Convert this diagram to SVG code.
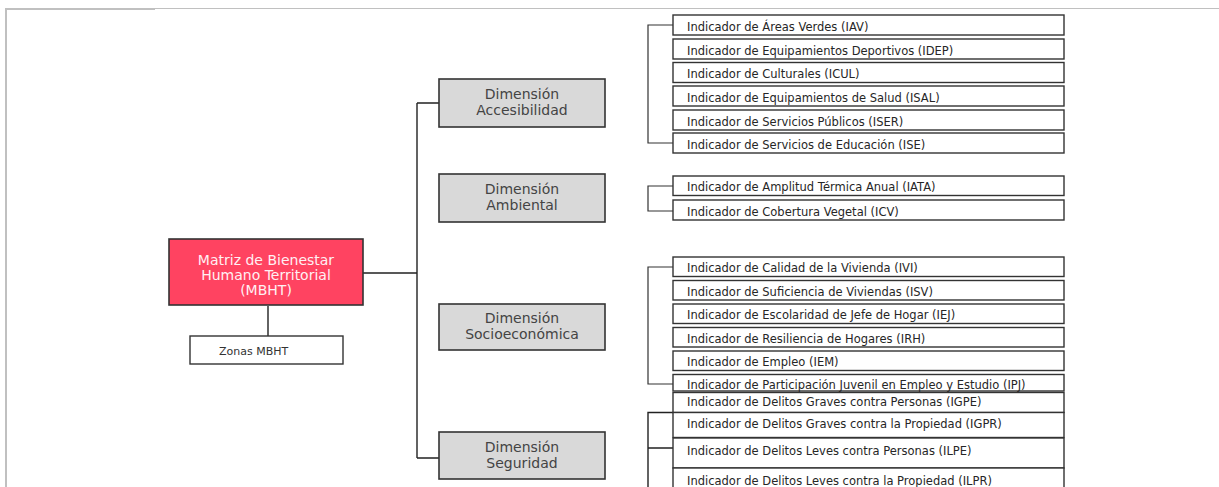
<svg xmlns="http://www.w3.org/2000/svg" width="1219" height="487" viewBox="0 0 1219 487">
<style>
.dim{fill:#d9d9d9;stroke:#333;stroke-width:1.6}
.ind{fill:#fff;stroke:#333;stroke-width:1.4}
.dt{font-family:"DejaVu Sans",Verdana,sans-serif;font-size:14px;fill:#444;text-anchor:middle}
.mt{font-family:"DejaVu Sans",Verdana,sans-serif;font-size:14px;fill:#fff0f3;text-anchor:middle}
.it{font-family:"DejaVu Sans",Verdana,sans-serif;font-size:11.5px;fill:#262626}
.ln{fill:none;stroke:#222;stroke-width:1.4}
.bk{fill:none;stroke:#333;stroke-width:1.2}
</style>
<rect width="1219" height="487" fill="#fff"/>
<g id="page-border" fill="none" stroke="#c0c0c0">
<path d="M6 487V9H155" stroke-width="2"/>
<path d="M155 8.5H1219" stroke-width="1.2"/>
</g>
<g id="connectors">
<path class="ln" d="M363 273H417M417 103V458M417 103H439M417 458H439"/>
<path class="ln" d="M268 306V336"/>
<path class="bk" d="M673 25H648V143H673"/>
<path class="bk" d="M673 186H648V211H673"/>
<path class="bk" d="M673 267H648V384H673"/>
<path class="ln" d="M673 412.5H648V487M648 448H673"/>
</g>
<g id="mbht">
<rect x="169" y="239" width="194" height="66" fill="#ff4361" stroke="#333" stroke-width="1.6"/>
<text class="mt" x="266" y="265">Matriz de Bienestar</text>
<text class="mt" x="266" y="280">Humano Territorial</text>
<text class="mt" x="266" y="295">(MBHT)</text>
</g>
<g id="zonas">
<rect x="190" y="336" width="153" height="28" fill="#fff" stroke="#333" stroke-width="1.4"/>
<text x="219" y="355" style="font-family:'DejaVu Sans',Verdana,sans-serif;font-size:11px;fill:#333">Zonas MBHT</text>
</g>
<g id="dim-accesibilidad">
<rect class="dim" x="439" y="79" width="166" height="48"/>
<text class="dt" x="522" y="99">Dimensión</text>
<text class="dt" x="522" y="115">Accesibilidad</text>
</g>
<g id="dim-ambiental">
<rect class="dim" x="439" y="174" width="166" height="48"/>
<text class="dt" x="522" y="194">Dimensión</text>
<text class="dt" x="522" y="210">Ambiental</text>
</g>
<g id="dim-socioeconomica">
<rect class="dim" x="439" y="304" width="166" height="46"/>
<text class="dt" x="522" y="323">Dimensión</text>
<text class="dt" x="522" y="339">Socioeconómica</text>
</g>
<g id="dim-seguridad">
<rect class="dim" x="439" y="432" width="166" height="47"/>
<text class="dt" x="522" y="452">Dimensión</text>
<text class="dt" x="522" y="468">Seguridad</text>
</g>
<g id="ind-iav"><rect class="ind" x="673" y="15" width="391" height="20"/><text class="it" x="687" y="30.5">Indicador de Áreas Verdes (IAV)</text></g>
<g id="ind-idep"><rect class="ind" x="673" y="39" width="391" height="20"/><text class="it" x="687" y="54.5">Indicador de Equipamientos Deportivos (IDEP)</text></g>
<g id="ind-icul"><rect class="ind" x="673" y="62.5" width="391" height="20"/><text class="it" x="687" y="78">Indicador de Culturales (ICUL)</text></g>
<g id="ind-isal"><rect class="ind" x="673" y="86" width="391" height="20"/><text class="it" x="687" y="101.5">Indicador de Equipamientos de Salud (ISAL)</text></g>
<g id="ind-iser"><rect class="ind" x="673" y="110" width="391" height="20"/><text class="it" x="687" y="125.5">Indicador de Servicios Públicos (ISER)</text></g>
<g id="ind-ise"><rect class="ind" x="673" y="133" width="391" height="20"/><text class="it" x="687" y="148.5">Indicador de Servicios de Educación (ISE)</text></g>
<g id="ind-iata"><rect class="ind" x="673" y="176" width="391" height="19.5"/><text class="it" x="687" y="191">Indicador de Amplitud Térmica Anual (IATA)</text></g>
<g id="ind-icv"><rect class="ind" x="673" y="200" width="391" height="20"/><text class="it" x="687" y="215.5">Indicador de Cobertura Vegetal (ICV)</text></g>
<g id="ind-ivi"><rect class="ind" x="673" y="257" width="391" height="19.5"/><text class="it" x="687" y="272">Indicador de Calidad de la Vivienda (IVI)</text></g>
<g id="ind-isv"><rect class="ind" x="673" y="280.5" width="391" height="19.5"/><text class="it" x="687" y="295.5">Indicador de Suficiencia de Viviendas (ISV)</text></g>
<g id="ind-iej"><rect class="ind" x="673" y="304" width="391" height="19.5"/><text class="it" x="687" y="319">Indicador de Escolaridad de Jefe de Hogar (IEJ)</text></g>
<g id="ind-irh"><rect class="ind" x="673" y="327.5" width="391" height="19.5"/><text class="it" x="687" y="342.5">Indicador de Resiliencia de Hogares (IRH)</text></g>
<g id="ind-iem"><rect class="ind" x="673" y="351" width="391" height="19.5"/><text class="it" x="687" y="366">Indicador de Empleo (IEM)</text></g>
<g id="ind-ipj"><rect class="ind" x="673" y="374.5" width="391" height="16.5"/><text class="it" x="687" y="389">Indicador de Participación Juvenil en Empleo y Estudio (IPJ)</text></g>
<g id="ind-igpe"><rect class="ind" x="673" y="392.5" width="391" height="20"/><text class="it" x="687" y="406">Indicador de Delitos Graves contra Personas (IGPE)</text></g>
<g id="ind-igpr"><rect class="ind" x="673" y="412.5" width="391" height="25"/><text class="it" x="687" y="428">Indicador de Delitos Graves contra la Propiedad (IGPR)</text></g>
<g id="ind-ilpe"><rect class="ind" x="673" y="438" width="391" height="30"/><text class="it" x="687" y="454.5">Indicador de Delitos Leves contra Personas (ILPE)</text></g>
<g id="ind-ilpr"><rect class="ind" x="673" y="468" width="391" height="25"/><text class="it" x="687" y="484.5">Indicador de Delitos Leves contra la Propiedad (ILPR)</text></g>
</svg>
